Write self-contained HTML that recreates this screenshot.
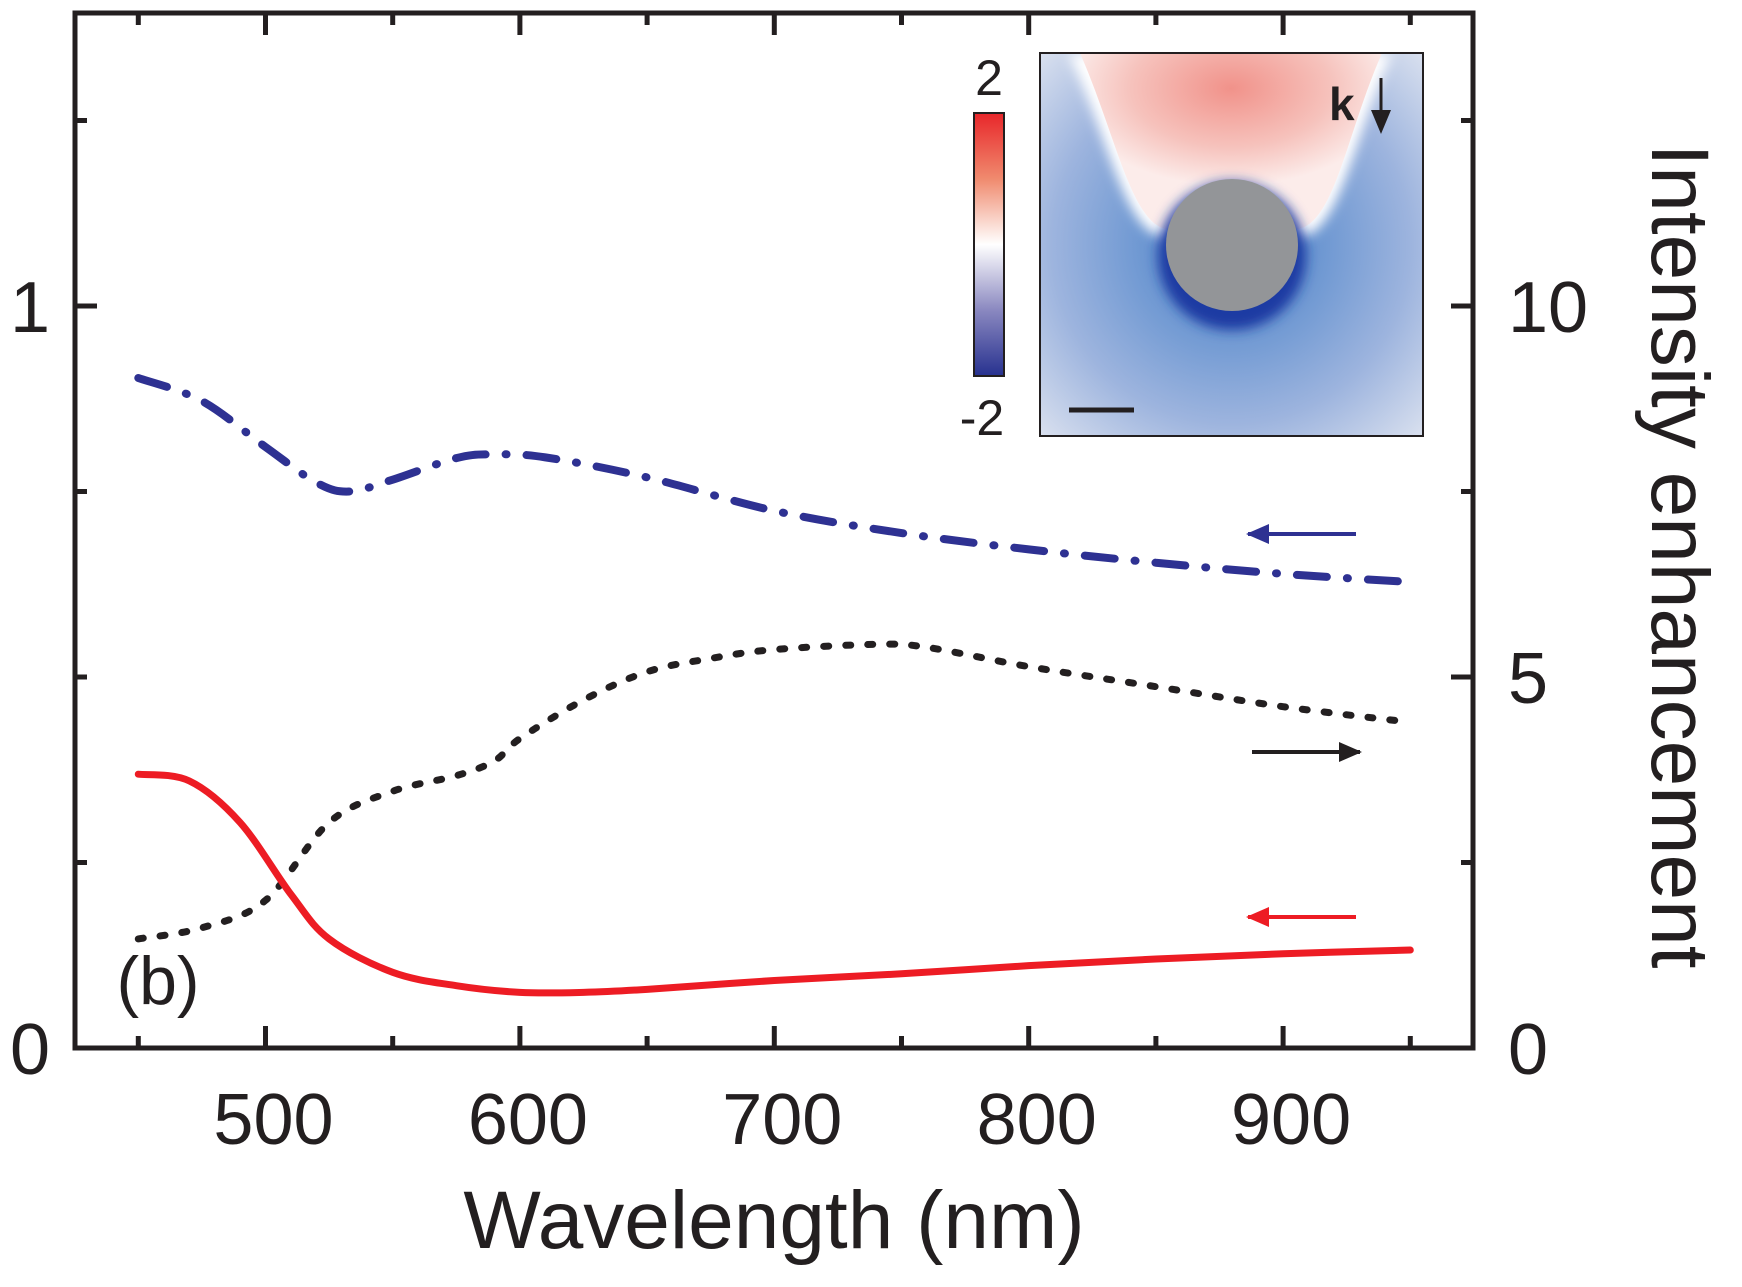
<!DOCTYPE html>
<html><head><meta charset="utf-8"><style>
html,body{margin:0;padding:0;background:#fff;}
svg{display:block;}
text{font-family:"Liberation Sans Narrow","Liberation Sans",sans-serif;fill:#231f20;}
</style></head><body>
<svg id="chart" width="1742" height="1287" viewBox="0 0 1742 1287" xmlns="http://www.w3.org/2000/svg">
<defs>
<radialGradient id="bgBlue" cx="0.5" cy="0.5" r="0.78">
<stop offset="0" stop-color="#3e6fc4"/><stop offset="0.25" stop-color="#6693d0"/><stop offset="0.6" stop-color="#9db4de"/><stop offset="1" stop-color="#eceef4"/>
</radialGradient>
<radialGradient id="redTop" cx="0.5" cy="0.2" r="0.55">
<stop offset="0" stop-color="#f1928a"/><stop offset="0.6" stop-color="#f6c2bc"/><stop offset="1" stop-color="#fcecea"/>
</radialGradient>
<linearGradient id="cbar" x1="0" y1="0" x2="0" y2="1">
<stop offset="0" stop-color="#e8262a"/><stop offset="0.25" stop-color="#f08a6e"/><stop offset="0.5" stop-color="#ffffff"/><stop offset="0.75" stop-color="#8a88c0"/><stop offset="1" stop-color="#27318f"/>
</linearGradient>
<filter id="blur"><feGaussianBlur stdDeviation="6"/></filter>
<filter id="blur2"><feGaussianBlur stdDeviation="3"/></filter>
<clipPath id="insetClip"><rect x="1040" y="53" width="383" height="383"/></clipPath>
</defs>
<g id="axes"></g>
<g id="series"></g>
<g id="inset">
<g clip-path="url(#insetClip)">
<rect x="1040" y="53" width="383" height="383" fill="url(#bgBlue)"/>
<path d="M1068 53 C1110 140 1125 238 1168 238 L1296 238 C1340 238 1352 140 1392 53 Z" fill="#ffffff" filter="url(#blur)"/>
<path d="M1080 53 C1118 140 1132 230 1172 230 L1292 230 C1334 230 1344 140 1382 53 Z" fill="url(#redTop)"/>
<path d="M1174 222 A62 62 0 0 1 1290 222 L1282 215 A54 54 0 0 0 1182 215 Z" fill="#ffffff" filter="url(#blur2)"/>
<path d="M1168 240 A66 60 0 0 1 1296 240 Z" fill="#2048b0" filter="url(#blur2)"/>
<circle cx="1232" cy="256" r="74" fill="#1a3aa3" filter="url(#blur)" clip-path="none"/>
<circle cx="1232" cy="245" r="66" fill="#939598"/>
</g>
<rect x="1040" y="53" width="383" height="383" fill="none" stroke="#231f20" stroke-width="2"/>
<line x1="1069" y1="410" x2="1134" y2="410" stroke="#231f20" stroke-width="5"/>
<text x="1329" y="120" font-size="46" font-weight="bold">k</text>
<line x1="1381" y1="78" x2="1381" y2="118" stroke="#231f20" stroke-width="3"/>
<polygon points="1371,110 1391,110 1381,134" fill="#231f20"/>
<rect x="974" y="113" width="30" height="263" fill="url(#cbar)" stroke="#231f20" stroke-width="2"/>
<text x="989" y="95" font-size="50" text-anchor="middle">2</text>
<text x="982" y="435" font-size="50" text-anchor="middle">-2</text>
</g>
</svg>
<script>
const wavelengths = [450,475,500,520,533,550,575,590,610,650,700,750,800,850,900,950];
const blueValues = [0.903,0.872,0.81,0.762,0.75,0.766,0.795,0.80,0.796,0.769,0.724,0.694,0.672,0.654,0.639,0.628];
const dotWavelengths = [450,475,500,525,550,575,590,600,625,650,675,700,740,760,800,850,900,950];
const blackValues = [1.47,1.62,1.99,3.04,3.46,3.67,3.87,4.17,4.69,5.07,5.25,5.37,5.44,5.40,5.14,4.87,4.60,4.39];
const redWavelengths = [450,470,490,510,525,550,575,600,625,650,700,750,800,850,900,950];
const redValues = [0.369,0.36,0.304,0.207,0.147,0.102,0.084,0.075,0.075,0.079,0.091,0.100,0.111,0.12,0.127,0.132];
const xTickLabels = ["500","600","700","800","900"];
const xMajorTicks = [500,600,700,800,900];
const xMinorTicks = [450,550,650,750,850,950];
const leftTickLabels = ["0","1"];
const leftMajor = [0,1];
const leftMinor = [0.25,0.5,0.75,1.25];
const rightTickLabels = ["0","5","10"];
const rightMajor = [0,5,10];
const rightMinor = [2.5,7.5,12.5];

const NS = "http://www.w3.org/2000/svg";
const L=75, R=1473, T=13, B=1048;
function xs(w){return 265.5+(w-500)*2.544;}
function yl(v){return 1048-v*742;}
function yr(v){return 1048-v*74.2;}
function mk(tag,attrs,parent){const e=document.createElementNS(NS,tag);for(const k in attrs)e.setAttribute(k,attrs[k]);parent.appendChild(e);return e;}
const axes=document.getElementById('axes');
const series=document.getElementById('series');

const frame=mk('rect',{x:L,y:T,width:R-L,height:B-T,fill:'none',stroke:'#231f20','stroke-width':5},axes);



xMajorTicks.forEach((w,i)=>{
  mk('line',{x1:xs(w),y1:B,x2:xs(w),y2:B-22,stroke:'#231f20','stroke-width':5},axes);
  mk('line',{x1:xs(w),y1:T,x2:xs(w),y2:T+22,stroke:'#231f20','stroke-width':5},axes);
  const t=mk('text',{x:xs(w)+8,y:1144,'font-size':72,'text-anchor':'middle'},axes);
  t.textContent=xTickLabels[i];
  
  
});
xMinorTicks.forEach(w=>{
  mk('line',{x1:xs(w),y1:B,x2:xs(w),y2:B-12,stroke:'#231f20','stroke-width':5},axes);
  mk('line',{x1:xs(w),y1:T,x2:xs(w),y2:T+12,stroke:'#231f20','stroke-width':5},axes);
});
leftMajor.forEach((v,i)=>{
  mk('line',{x1:L,y1:yl(v),x2:L+22,y2:yl(v),stroke:'#231f20','stroke-width':5},axes);
  const t=mk('text',{x:30,y:yl(v)+26,'font-size':72,'text-anchor':'middle'},axes);
  t.textContent=leftTickLabels[i];
  
  
});
leftMinor.forEach(v=>mk('line',{x1:L,y1:yl(v),x2:L+12,y2:yl(v),stroke:'#231f20','stroke-width':5},axes));
rightMajor.forEach((v,i)=>{
  mk('line',{x1:R,y1:yr(v),x2:R-22,y2:yr(v),stroke:'#231f20','stroke-width':5},axes);
  const t=mk('text',{x:1508,y:yr(v)+26,'font-size':72,'text-anchor':'start'},axes);
  t.textContent=rightTickLabels[i];
  
  
});
rightMinor.forEach(v=>mk('line',{x1:R,y1:yr(v),x2:R-12,y2:yr(v),stroke:'#231f20','stroke-width':5},axes));

const xt=mk('text',{x:774,y:1248,'font-size':82,'text-anchor':'middle'},axes);
xt.textContent='Wavelength (nm)';


const yt=mk('text',{x:0,y:0,'font-size':82,'text-anchor':'middle',transform:'translate(1652,556) rotate(90)'},axes);
yt.textContent='Intensity enhancement';


const pl=mk('text',{x:158,y:1004,'font-size':68,'text-anchor':'middle'},axes);
pl.textContent='(b)';



function smooth(pts){
  let d='M'+pts[0][0]+' '+pts[0][1];
  for(let i=0;i<pts.length-1;i++){
    const p0=pts[Math.max(0,i-1)],p1=pts[i],p2=pts[i+1],p3=pts[Math.min(pts.length-1,i+2)];
    const c1=[p1[0]+(p2[0]-p0[0])/6,p1[1]+(p2[1]-p0[1])/6];
    const c2=[p2[0]-(p3[0]-p1[0])/6,p2[1]-(p3[1]-p1[1])/6];
    d+=' C'+c1.join(' ')+' '+c2.join(' ')+' '+p2.join(' ');
  }
  return d;
}
const blue=mk('path',{d:smooth(wavelengths.map((w,i)=>[xs(w),yl(blueValues[i])])),fill:'none',stroke:'#2e3192','stroke-width':8,'stroke-linecap':'round','stroke-dasharray':'30 20 1 20'},series);


const black=mk('path',{d:smooth(dotWavelengths.map((w,i)=>[xs(w),yr(blackValues[i])])),fill:'none',stroke:'#231f20','stroke-width':7,'stroke-linecap':'round','stroke-dasharray':'5 17'},series);


const red=mk('path',{d:smooth(redWavelengths.map((w,i)=>[xs(w),yl(redValues[i])])),fill:'none',stroke:'#ed1c24','stroke-width':7,'stroke-linecap':'round'},series);



function arrow(x1,x2,y,color,dir,name){
  const g=mk('g',{},series);
  
  
  mk('line',{x1:x1,y1:y,x2:x2,y2:y,stroke:color,'stroke-width':4},g);
  if(dir<0) mk('polygon',{points:`${x1-2},${y} ${x1+21},${y-10} ${x1+21},${y+10}`,fill:color},g);
  else mk('polygon',{points:`${x2+2},${y} ${x2-21},${y-10} ${x2-21},${y+10}`,fill:color},g);
}
arrow(1248,1356,534,'#2e3192',-1,'blue-axis-arrow');
arrow(1252,1360,752,'#231f20',1,'black-axis-arrow');
arrow(1248,1356,917,'#ed1c24',-1,'red-axis-arrow');
</script>
</body></html>
